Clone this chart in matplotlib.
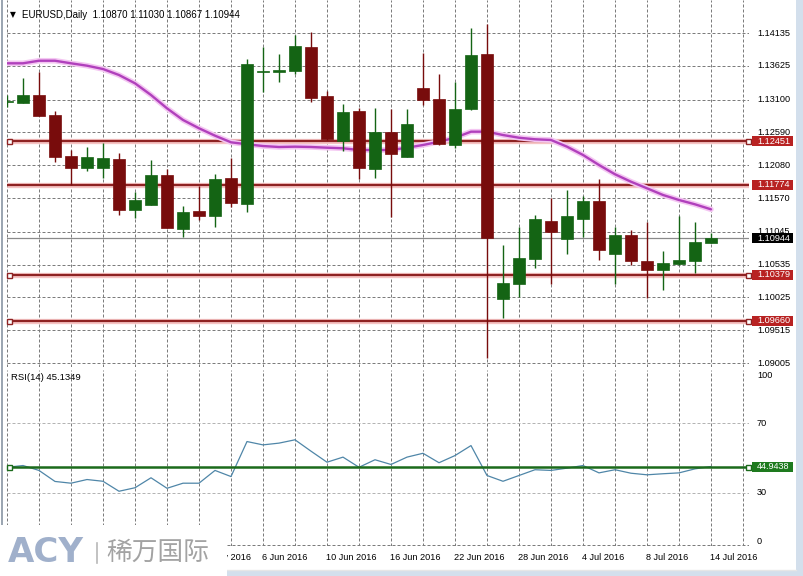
import matplotlib
matplotlib.use('Agg')
import matplotlib.pyplot as plt
from matplotlib.patches import Rectangle
from matplotlib.lines import Line2D
from matplotlib.transforms import blended_transform_factory

plt.rcParams['font.family'] = ['Liberation Sans', 'DejaVu Sans']

# ---------------- data ----------------
opens = [1.13067, 1.13052, 1.13171, 1.12860, 1.12223, 1.12041, 1.12041, 1.12176, 1.11384, 1.11461,
         1.11928, 1.11093, 1.11368, 1.11295, 1.11876, 1.11482, 1.13524, 1.13533, 1.13549, 1.13917,
         1.13156, 1.12456, 1.12923, 1.12026, 1.12596, 1.12212, 1.13285, 1.13109, 1.12394, 1.12946,
         1.13809, 1.10000, 1.10229, 1.10622, 1.11208, 1.10928, 1.11239, 1.11523, 1.10695, 1.10995,
         1.10591, 1.10456, 1.10544, 1.10595, 1.10870]
highs = [1.13171, 1.13431, 1.13524, 1.12923, 1.12316, 1.12368, 1.12430, 1.12274, 1.11668, 1.12161,
         1.12021, 1.11446, 1.11757, 1.11939, 1.12197, 1.13731, 1.13922, 1.13809, 1.14104, 1.14155,
         1.13233, 1.13031, 1.12964, 1.12964, 1.12954, 1.12954, 1.13819, 1.13493, 1.13378, 1.14208,
         1.14270, 1.10840, 1.11115, 1.11306, 1.11565, 1.11694, 1.11601, 1.11865, 1.11115, 1.11073,
         1.11192, 1.10751, 1.11290, 1.11202, 1.11030]
lows = [1.12985, 1.13047, 1.12845, 1.12134, 1.11772, 1.11990, 1.11876, 1.11306, 1.11264, 1.11455,
        1.11099, 1.10969, 1.11228, 1.11124, 1.11435, 1.11357, 1.13213, 1.13378, 1.13493, 1.13058,
        1.12472, 1.12301, 1.11865, 1.11886, 1.11279, 1.12200, 1.13016, 1.12394, 1.12352, 1.12938,
        1.09088, 1.09700, 1.10036, 1.10477, 1.10229, 1.10704, 1.10969, 1.10611, 1.10229, 1.10529,
        1.10011, 1.10140, 1.10529, 1.10400, 1.10867]
closes = [1.13067, 1.13171, 1.12849, 1.12212, 1.12041, 1.12207, 1.12187, 1.11384, 1.11539, 1.11928,
          1.11108, 1.11352, 1.11295, 1.11865, 1.11497, 1.13648, 1.13529, 1.13560, 1.13933, 1.13129,
          1.12487, 1.12907, 1.12041, 1.12596, 1.12249, 1.12720, 1.13094, 1.12410, 1.12954, 1.13793,
          1.10953, 1.10253, 1.10633, 1.11244, 1.11046, 1.11286, 1.11523, 1.10757, 1.10995, 1.10595,
          1.10456, 1.10560, 1.10606, 1.10881, 1.10944]
ma = [1.13664, 1.13664, 1.13704, 1.13704, 1.13664, 1.13627, 1.13575, 1.13482, 1.13353, 1.13171,
      1.12964, 1.12783, 1.12654, 1.12539, 1.12436, 1.12405, 1.12378, 1.12363, 1.12368, 1.12363,
      1.12352, 1.12343, 1.12316, 1.12316, 1.12316, 1.12352, 1.12394, 1.12445, 1.12507, 1.12601,
      1.12601, 1.12549, 1.12507, 1.12483, 1.12472, 1.12368, 1.12239, 1.12083, 1.11939, 1.11823,
      1.11721, 1.11617, 1.11539, 1.11472, 1.11394]
rsi = [44.7, 45.7, 42.9, 36.6, 35.6, 37.7, 36.7, 31.0, 33.0, 38.7, 32.7, 35.6, 35.6, 42.9, 39.4,
       59.4, 57.5, 58.5, 60.4, 53.9, 47.6, 50.5, 44.7, 49.0, 46.3, 50.5, 52.7, 47.3, 51.4, 57.1,
       40.0, 36.7, 40.0, 43.3, 42.9, 44.2, 45.7, 41.5, 43.3, 41.3, 40.4, 41.0, 41.5, 43.8, 45.13]

# visible date labels (earlier ones are hidden under the watermark in the reference)
date_idx = [12, 16, 20, 24, 28, 32, 36, 40, 44]
date_labels = ['31 May 2016', '6 Jun 2016', '10 Jun 2016', '16 Jun 2016', '22 Jun 2016',
               '28 Jun 2016', '4 Jul 2016', '8 Jul 2016', '14 Jul 2016']
price_ticks = [1.14135, 1.13625, 1.13100, 1.12590, 1.12080, 1.11570, 1.11045, 1.10535,
               1.10025, 1.09515, 1.09005]
price_tick_labels = ['1.14135', '1.13625', '1.13100', '1.12590', '1.12080', '1.11570',
                     '1.11045', '1.10535', '1.10025', '1.09515', '1.09005']
rsi_ticks = [70, 30]
rsi_label_pos = [97, 70, 30, 2.5]
rsi_label_txt = ['100', '70', '30', '0']

sr_levels = [1.12451, 1.11774, 1.10379, 1.09660]
sr_markers = [True, False, True, True]
last_price = 1.10944
rsi_level = 44.9438

# ---------------- figure ----------------
W, H = 804, 576
fig = plt.figure(figsize=(W / 100, H / 100), dpi=100)
fig.patch.set_facecolor('white')


def axes_px(x0, y0, x1, y1):
    a = fig.add_axes([x0 / W, 1 - y1 / H, (x1 - x0) / W, (y1 - y0) / H])
    for s in a.spines.values():
        s.set_visible(False)
    a.set_xticks([])
    a.set_yticks([])
    a.patch.set_alpha(0)
    return a


XL, XR = 7, 749
ax = axes_px(XL, 0, XR, 367)
rx = axes_px(XL, 370, XR, 546)
n = len(opens)
xmax = (XR - XL) / 16.0
ax.set_xlim(0, xmax)
rx.set_xlim(0, xmax)
ax.set_ylim(1.08943, 1.14648)
rx.set_ylim(-0.286, 100.286)

grid_c = '#7c7c7c'
dash = (0, (3, 2))
gx = list(range(0, 47, 2))
for g in gx:
    ax.axvline(g, color=grid_c, lw=0.72, ls=dash, zorder=1)
    rx.axvline(g, color=grid_c, lw=0.72, ls=dash, zorder=1)
for p in price_ticks:
    ax.axhline(p, color=grid_c, lw=0.72, ls=dash, zorder=1)
for r in rsi_ticks:
    rx.axhline(r, color='#b4b4b4', lw=0.72, ls=dash, zorder=1)
rx.axhline(0, color=grid_c, lw=0.72, ls=dash, zorder=1)

# last price line
ax.axhline(last_price, color='#8a8a8a', lw=0.9, zorder=2)

# support / resistance lines
line_c = '#8e2222'
for lv, mk in zip(sr_levels, sr_markers):
    x0 = 0.125 if mk else 0
    x1 = xmax - 0.08 if mk else xmax
    ax.plot([x0, x1], [lv, lv], color='#f6c4c4', lw=3.8, solid_capstyle='butt', zorder=2)
    ax.plot([x0, x1], [lv, lv], color=line_c, lw=1.6, solid_capstyle='butt', zorder=3)
    if mk:
        ax.plot([x0, x1], [lv, lv], ls='none', marker='s', ms=3.6, mfc='white', mec=line_c,
                mew=1.0, zorder=4, clip_on=False)

# moving average
xs = list(range(n))
ax.plot(xs, ma, color='#f4c6f2', lw=4.0, zorder=3, solid_capstyle='round')
ax.plot(xs, ma, color='#b040bc', lw=1.7, zorder=4, solid_capstyle='round')

# candles
green = '#146414'
red = '#780c0c'
minh = 0.00014
for i in range(n):
    o, h, l, c = opens[i], highs[i], lows[i], closes[i]
    col = green if c >= o else red
    ax.vlines(i, l, h, color=col, lw=1.0, zorder=5)
    bot = min(o, c)
    ht = max(abs(c - o), minh)
    ax.bar(i, ht, bottom=bot, width=0.69, color=col, edgecolor=col, lw=0.5, zorder=6)

# RSI
rx.plot(xs, rsi, color='#4f86a8', lw=0.9, zorder=3)
rx.plot([0.125, xmax - 0.08], [rsi_level, rsi_level], color='#1b6a1b', lw=1.8, zorder=4)
rx.plot([0.125, xmax - 0.08], [rsi_level, rsi_level], ls='none', marker='s', ms=3.6,
        mfc='white', mec='#1b6a1b', mew=1.0, zorder=5, clip_on=False)

# right axis labels
fs = 6.6
lab_x = (757 - XL) / (XR - XL)
box_x0 = (752 - XL) / (XR - XL)
box_w = (793 - 752) / (XR - XL)
tr_main = blended_transform_factory(ax.transAxes, ax.transData)
tr_rsi = blended_transform_factory(rx.transAxes, rx.transData)
for p, t in zip(price_ticks, price_tick_labels):
    ax.text(lab_x, p, t, transform=tr_main, ha='left', va='center', fontsize=fs,
            color='black', clip_on=False, zorder=7)
for p, t in zip(rsi_label_pos, rsi_label_txt):
    rx.text(lab_x, p, t, transform=tr_rsi, ha='left', va='center', fontsize=fs,
            color='black', clip_on=False, zorder=7)

ppx = (1.14648 - 1.08943) / 367.0
rpx = (100.286 + 0.286) / 176.0


def price_box(a, tr, val, txt, fc, unit):
    hgt = 10 * unit
    a.add_patch(Rectangle((box_x0, val - hgt / 2), box_w, hgt, transform=tr, facecolor=fc,
                          edgecolor='none', clip_on=False, zorder=8))
    a.text(lab_x, val, txt, transform=tr, ha='left', va='center', fontsize=fs, color='white',
           clip_on=False, zorder=9)


for lv in sr_levels:
    price_box(ax, tr_main, lv, '%.5f' % lv, '#b82222', ppx)
price_box(ax, tr_main, last_price, '%.5f' % last_price, '#000000', ppx)
price_box(rx, tr_rsi, rsi_level, '%.4f' % rsi_level, '#1e7a1e', rpx)

# date labels
for i, t in zip(date_idx, date_labels):
    rx.text(i - 0.06, -12 / 176.0, t, transform=blended_transform_factory(rx.transData, rx.transAxes),
            ha='left', va='center', fontsize=fs, color='black', clip_on=False)

# titles
fig.text(10 / W, 1 - 14.5 / H, '\u25bc', fontsize=5.5, color='black', va='center', ha='left',
         family=['DejaVu Sans'])
fig.text(22 / W, 1 - 14.5 / H, 'EURUSD,Daily  1.10870 1.11030 1.10867 1.10944', fontsize=7,
         color='black', va='center', ha='left')
fig.text(11 / W, 1 - 377.5 / H, 'RSI(14) 45.1349', fontsize=6.8, color='black', va='center',
         ha='left')

# window frame
fig.add_artist(Rectangle((796 / W, 0), 8 / W, 1, transform=fig.transFigure, facecolor='#d3dfec',
                         edgecolor='none', zorder=9))
fig.add_artist(Rectangle((0, 0), 1, 6 / H, transform=fig.transFigure, facecolor='#d3dfec',
                         edgecolor='none', zorder=9))
fig.add_artist(Line2D([0, 796 / W], [6.5 / H, 6.5 / H], transform=fig.transFigure,
                      color='#e6e6e6', lw=1, zorder=9))
fig.add_artist(Line2D([2.5 / W, 2.5 / W], [51 / H, 1], transform=fig.transFigure,
                      color='#9aa4b0', lw=1.4, zorder=9))

# watermark
fig.add_artist(Rectangle((0, 0), 227 / W, 51 / H, transform=fig.transFigure, facecolor='white',
                         edgecolor='none', zorder=10))
fig.text(8 / W, 1 - 552.5 / H, 'ACY', fontsize=24.5, fontweight='bold', color='#a0b0cb',
         va='center', ha='left', family=['DejaVu Sans'], zorder=11)
fig.add_artist(Line2D([97 / W, 97 / W], [1 - 563 / H, 1 - 543 / H], transform=fig.transFigure,
                      color='#b8b8b8', lw=1.2, zorder=11))
fig.text(106 / W, 1 - 553 / H, '稀万国际', fontsize=18.5, color='#a3a3a3', va='center', ha='left',
         family=['Noto Sans CJK SC', 'DejaVu Sans'], zorder=11)

fig.savefig('out.png', dpi=100, facecolor='white')
